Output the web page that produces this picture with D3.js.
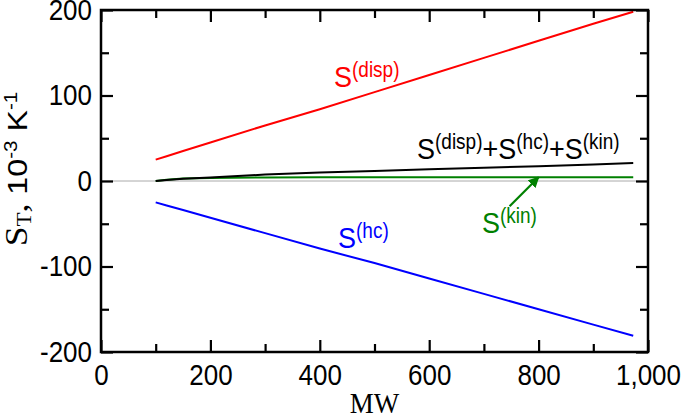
<!DOCTYPE html>
<html>
<head>
<meta charset="utf-8">
<script src="https://cdn.jsdelivr.net/npm/d3@7"></script>
<style>
  body { margin: 0; background: #fff; }
  svg { display: block; }
</style>
</head>
<body>
<svg id="chart" width="683" height="418"></svg>
<script>
// molecular weight
var mw = [100, 120, 150, 200, 300, 400, 500, 600, 700, 800, 900, 973];
// S_T contributions, 10^-3 K^-1
var sDisp = [25, 29, 35, 45, 65, 84, 104, 124, 144, 164, 184, 198];
var sHc   = [-25, -28.6, -34, -43, -61, -79, -96, -114, -132, -150, -168, -181];
var sKin  = [0, 1.5, 2.8, 3.6, 4.2, 4.3, 4.3, 4.4, 4.4, 4.4, 4.4, 4.4];
var sTot  = [0, 1.2, 2.5, 4.2, 7.5, 9.8, 11.8, 13.7, 15.5, 17.3, 19.3, 21];

var xMajor = [0, 200, 400, 600, 800, 1000],
    xMinor = [100, 300, 500, 700, 900],
    yMajor = [-200, -100, 0, 100, 200],
    yMinor = [-150, -50, 50, 150];

var sans = "'Liberation Sans', Arial, sans-serif",
    serif = "'Liberation Serif', 'Times New Roman', serif";

// glyphs in the original are a little taller than wide
var stretch = 1.12;

var svg = d3.select("#chart");

var plotL = 101, plotR = 648, plotT = 10, plotB = 352;

var x = d3.scaleLinear().domain([0, 1000]).range([plotL, plotR]);
var y = d3.scaleLinear().domain([-200, 200]).range([plotB, plotT]);

// zero line
svg.append("line")
	.attr("x1", plotL).attr("x2", plotR)
	.attr("y1", y(0)).attr("y2", y(0))
	.attr("stroke", "#aaaaaa")
	.attr("stroke-width", 1);

// series
var line = d3.line()
	.x(function(d){ return x(d[0]); })
	.y(function(d){ return y(d[1]); });

var series = [
	{ vals: sDisp, color: "#ff0000" },
	{ vals: sHc, color: "#0000ff" },
	{ vals: sKin, color: "#008000" },
	{ vals: sTot, color: "#000000" }
];

series.forEach(function(s){
	svg.append("path")
		.datum(mw.map(function(m, i){ return [m, s.vals[i]]; }))
		.attr("d", line)
		.attr("fill", "none")
		.attr("stroke", s.color)
		.attr("stroke-width", 2);
});

// axes, ticks inward on all four sides
function styleAxis(g) {
	g.select(".domain").remove();
	g.selectAll(".tick line").attr("stroke", "#000").attr("stroke-width", 2.2);
	g.selectAll("text")
		.attr("font-family", sans)
		.attr("font-size", 26)
		.attr("fill", "#000")
		.attr("transform", "scale(1," + stretch + ")");
}

var hyphen = function(d){ return d3.format(",")(d).replace("\u2212", "-"); };

svg.append("g").attr("transform", "translate(" + plotL + ",0)")
	.call(d3.axisLeft(y).tickValues(yMajor).tickSizeInner(-12).tickSizeOuter(0).tickPadding(9).tickFormat(hyphen))
	.call(styleAxis);
svg.append("g").attr("transform", "translate(" + plotL + ",0)")
	.call(d3.axisLeft(y).tickValues(yMinor).tickSizeInner(-8).tickSizeOuter(0).tickFormat(""))
	.call(styleAxis);
svg.append("g").attr("transform", "translate(" + plotR + ",0)")
	.call(d3.axisRight(y).tickValues(yMajor).tickSizeInner(-12).tickSizeOuter(0).tickFormat(""))
	.call(styleAxis);
svg.append("g").attr("transform", "translate(" + plotR + ",0)")
	.call(d3.axisRight(y).tickValues(yMinor).tickSizeInner(-8).tickSizeOuter(0).tickFormat(""))
	.call(styleAxis);

svg.append("g").attr("transform", "translate(0," + plotB + ")")
	.call(d3.axisBottom(x).tickValues(xMajor).tickSizeInner(-12).tickSizeOuter(0).tickPadding(11).tickFormat(hyphen))
	.call(styleAxis);
svg.append("g").attr("transform", "translate(0," + plotB + ")")
	.call(d3.axisBottom(x).tickValues(xMinor).tickSizeInner(-8).tickSizeOuter(0).tickFormat(""))
	.call(styleAxis);
svg.append("g").attr("transform", "translate(0," + plotT + ")")
	.call(d3.axisTop(x).tickValues(xMajor).tickSizeInner(-12).tickSizeOuter(0).tickFormat(""))
	.call(styleAxis);
svg.append("g").attr("transform", "translate(0," + plotT + ")")
	.call(d3.axisTop(x).tickValues(xMinor).tickSizeInner(-8).tickSizeOuter(0).tickFormat(""))
	.call(styleAxis);

// frame
svg.append("rect")
	.attr("x", plotL).attr("y", plotT)
	.attr("width", plotR - plotL).attr("height", plotB - plotT)
	.attr("fill", "none")
	.attr("stroke", "#000")
	.attr("stroke-width", 2.5);

// axis titles
svg.append("text")
	.attr("transform", "translate(" + ((plotL + plotR) / 2) + ",413) scale(1," + stretch + ")")
	.attr("text-anchor", "middle")
	.attr("font-family", serif)
	.attr("font-size", 27)
	.text("MW");

var ylab = svg.append("text")
	.attr("transform", "translate(27,169) rotate(-90) scale(1.15,1)")
	.attr("text-anchor", "middle")
	.attr("font-size", 28)
	.attr("font-family", sans);
ylab.append("tspan").attr("font-family", serif).attr("font-size", 31).text("S");
ylab.append("tspan").attr("font-family", serif).attr("font-size", 20).attr("dy", 4).text("T");
ylab.append("tspan").attr("font-family", serif).attr("font-size", 31).attr("dy", -4).text(", ");
ylab.append("tspan").text("10");
ylab.append("tspan").attr("font-size", 18).attr("dy", -10).text("-3");
ylab.append("tspan").attr("dy", 10).text(" K");
ylab.append("tspan").attr("font-size", 18).attr("dy", -10).text("-1");

// series labels with superscripts
function label(xp, yp, color, parts) {
	var t = svg.append("text")
		.attr("transform", "translate(" + xp + "," + yp + ") scale(1," + stretch + ")")
		.attr("fill", color)
		.attr("font-family", sans)
		.attr("font-size", 27);
	parts.forEach(function(p){
		t.append("tspan").text("S");
		t.append("tspan").attr("font-size", 19).attr("dy", -9).text("(" + p.sup + ")");
		t.append("tspan").attr("dy", 9).text(p.after || "");
	});
}

label(334, 87, "#ff0000", [{ sup: "disp" }]);
label(338, 248, "#0000ff", [{ sup: "hc" }]);
label(482, 233, "#008000", [{ sup: "kin" }]);
label(417, 159, "#000000", [{ sup: "disp", after: "+" }, { sup: "hc", after: "+" }, { sup: "kin" }]);

// arrow to S(kin)
svg.append("defs").append("marker")
	.attr("id", "arrowhead")
	.attr("viewBox", "0 0 10 10")
	.attr("refX", 9).attr("refY", 5)
	.attr("markerWidth", 5).attr("markerHeight", 5)
	.attr("orient", "auto")
	.attr("markerUnits", "strokeWidth")
	.append("path")
		.attr("d", "M0,0 L10,5 L0,10 z")
		.attr("fill", "#008000");

var tipX = x(mw[9]), tipY = y(sKin[9]);
svg.append("line")
	.attr("x1", tipX - 29).attr("y1", tipY + 29)
	.attr("x2", tipX).attr("y2", tipY)
	.attr("stroke", "#008000")
	.attr("stroke-width", 2.2)
	.attr("marker-end", "url(#arrowhead)");
</script>
</body>
</html>
